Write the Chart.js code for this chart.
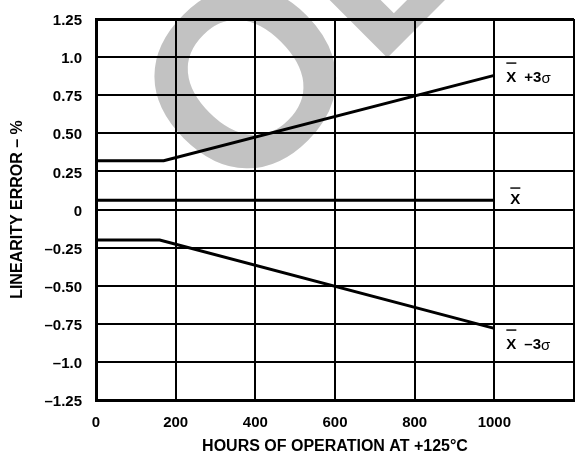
<!DOCTYPE html>
<html>
<head>
<meta charset="utf-8">
<script src="https://cdn.jsdelivr.net/npm/chart.js@4.4.0/dist/chart.umd.min.js"></script>
<style>
  html, body { margin: 0; padding: 0; background: #fff; }
</style>
</head>
<body>
<canvas id="myChart" width="575" height="456"></canvas>
<script>
// hours of operation for each trace
const hoursPlus  = [0, 170, 1000];
const hoursMean  = [0, 1000];
const hoursMinus = [0, 160, 1000];

// linearity error in %
const errPlus3Sigma  = [0.32, 0.32, 0.88];
const errMean        = [0.06, 0.06];
const errMinus3Sigma = [-0.20, -0.20, -0.78];

// text after the X-bar at the end of each trace
const traceSuffix = ['+3σ', '', '–3σ'];

const xTickLabels = ['0', '200', '400', '600', '800', '1000', ''];
const yTickLabels = ['–1.25', '–1.0', '–0.75', '–0.50', '–0.25', '0', '0.25', '0.50', '0.75', '1.0', '1.25'];

const FONT = '"Liberation Sans", Arial, Helvetica, sans-serif';

const toPoints = (xs, ys) => xs.map((x, i) => ({ x: x, y: ys[i] }));

// big grey stamp behind the grid
const stamp = {
    id: 'stamp',
    beforeDraw(chart) {
        const c = chart.ctx;
        c.save();
        c.fillStyle = '#c2c2c2';
        c.font = 'bold 250px ' + FONT;
        c.textBaseline = 'alphabetic';
        c.translate(238, 207);
        c.rotate(-Math.PI / 4);
        c.fillText('OBSOLETE', 0, 0);
        c.restore();
    }
};

// "X-bar +3σ" style names at the right end of each line
const traceLabels = {
    id: 'traceLabels',
    afterDatasetsDraw(chart) {
        const c = chart.ctx;
        const gap = [12, 16, 12];
        const drop = [2, 0, 16];
        const bar = [15, 13, 15];
        c.save();
        c.fillStyle = '#000';
        c.textBaseline = 'middle';
        c.textAlign = 'left';
        chart.data.datasets.forEach((ds, i) => {
            const pts = chart.getDatasetMeta(i).data;
            const end = pts[pts.length - 1];
            let x = end.x + gap[i];
            const y = end.y + drop[i];
            c.font = 'bold 15px ' + FONT;
            c.fillText('X', x, y);
            const w = c.measureText('X').width;
            c.fillRect(x, y - bar[i], w, 1.4);
            const s = traceSuffix[i];
            if (s) {
                x += w + 8;
                const head = s.slice(0, -1);
                c.fillText(head, x, y);
                x += c.measureText(head).width;
                c.font = '15px ' + FONT;
                c.fillText(s.slice(-1), x, y + 1);
            }
        });
        c.restore();
    }
};

const ctx = document.getElementById('myChart').getContext('2d');
new Chart(ctx, {
    type: 'line',
    data: {
        datasets: [
            { label: 'X +3σ', data: toPoints(hoursPlus, errPlus3Sigma) },
            { label: 'X', data: toPoints(hoursMean, errMean) },
            { label: 'X –3σ', data: toPoints(hoursMinus, errMinus3Sigma) }
        ]
    },
    options: {
        responsive: false,
        animation: false,
        layout: { padding: { left: 0, top: 19, right: 1, bottom: 0 } },
        elements: {
            line: { borderColor: '#000', borderWidth: 3, tension: 0, fill: false },
            point: { radius: 0 }
        },
        plugins: { legend: { display: false }, tooltip: { enabled: false } },
        scales: {
            x: {
                type: 'linear',
                min: 0,
                max: 1200,
                afterFit: s => { s.height = 56; s.paddingLeft = 0; s.paddingRight = 0; },
                ticks: {
                    stepSize: 200,
                    maxRotation: 0,
                    autoSkip: false,
                    padding: 14,
                    color: '#000',
                    font: { family: FONT, size: 15, weight: 'bold' },
                    callback: (v, i) => xTickLabels[i]
                },
                grid: {
                    color: '#000',
                    lineWidth: c => (c.tick && c.tick.value === 1200 ? 3 : 2),
                    drawTicks: false
                },
                border: { color: '#000', width: 3 },
                title: {
                    display: true,
                    text: 'HOURS OF OPERATION AT +125°C',
                    color: '#000',
                    font: { family: FONT, size: 16, weight: 'bold' },
                    padding: { top: 0, bottom: 0 }
                }
            },
            y: {
                min: -1.25,
                max: 1.25,
                afterFit: s => { s.width = 96; s.paddingTop = 0; s.paddingBottom = 0; },
                ticks: {
                    stepSize: 0.25,
                    autoSkip: false,
                    padding: 14,
                    labelOffset: 2,
                    color: '#000',
                    font: { family: FONT, size: 15, weight: 'bold' },
                    callback: (v, i) => yTickLabels[i]
                },
                grid: {
                    color: '#000',
                    lineWidth: c => (c.tick && c.tick.value === 1.25 ? 3 : 2),
                    drawTicks: false
                },
                border: { color: '#000', width: 3 },
                title: {
                    display: true,
                    text: 'LINEARITY ERROR – %',
                    color: '#000',
                    font: { family: FONT, size: 16, weight: 'bold' },
                    padding: { top: 8, bottom: 0 }
                }
            }
        }
    },
    plugins: [stamp, traceLabels]
});
</script>
</body>
</html>
